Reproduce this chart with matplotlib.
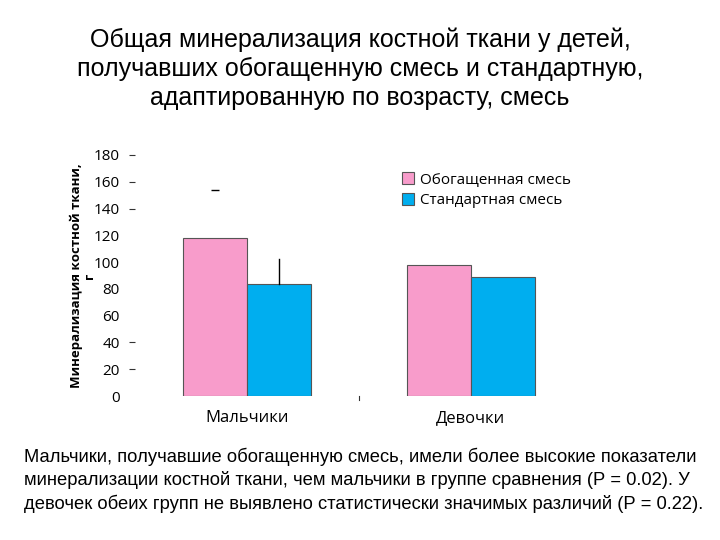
import matplotlib.pyplot as plt
import numpy as np

# data
groups = ["Мальчики", "Девочки"]
series = ["Обогащенная смесь", "Стандартная смесь"]
enriched = [118, 98]
standard = [84, 89]
enriched_err_top = [154, None]
standard_err_top = [102, None]
yticks = [0, 20, 40, 60, 80, 100, 120, 140, 160, 180]
no_dash = [60, 80, 100, 120]

title = ("Общая минерализация костной ткани у детей,\n"
         "получавших обогащенную смесь и стандартную,\n"
         "адаптированную по возрасту, смесь")
note = ("Мальчики, получавшие обогащенную смесь, имели более высокие показатели\n"
        "минерализации костной ткани, чем мальчики в группе сравнения (Р = 0.02). У\n"
        "девочек обеих групп не выявлено статистически значимых различий (Р = 0.22).")

pink = "#F89CCB"
blue = "#00AEEF"
chart_font = ["Open Sans", "DejaVu Sans"]
text_font = ["Liberation Sans", "DejaVu Sans"]

fig = plt.figure(figsize=(7.2, 5.4), dpi=100)
ax = fig.add_axes([135 / 720, 1 - 396 / 540, (583 - 135) / 720, (396 - 155) / 540])

x = np.arange(len(groups))
w = 0.286
ax.bar(x - w / 2, enriched, w, color=pink, edgecolor="#555555", linewidth=0.8,
       label=series[0])
ax.bar(x + w / 2, standard, w, color=blue, edgecolor="#555555", linewidth=0.8,
       label=series[1])

# error bars (only what is visible in the original)
for i in range(len(groups)):
    if enriched_err_top[i] is not None:
        ax.plot(x[i] - w / 2, enriched_err_top[i], marker="_", color="black",
                markersize=6, markeredgewidth=1)
    if standard_err_top[i] is not None:
        ax.plot([x[i] + w / 2, x[i] + w / 2], [standard[i], standard_err_top[i]],
                color="black", linewidth=1)

ax.set_xlim(-0.5, 1.5)
ax.set_ylim(0, 180)
ax.set_yticks(yticks)
ax.set_yticklabels([str(v) for v in yticks], fontsize=11, family=chart_font)
ax.tick_params(axis="y", length=4, width=0.8, pad=7, direction="out", color="#333333")
for tick, v in zip(ax.yaxis.get_major_ticks(), yticks):
    if v in no_dash or v == 0:
        tick.tick1line.set_visible(False)

ax.set_xticks(x)
ax.set_xticklabels(groups, fontsize=12, family=chart_font)
ax.tick_params(axis="x", length=0, pad=10)
# small separator tick between categories
ax.plot([0.5, 0.5], [0, -3], color="#333333", linewidth=0.8, clip_on=False)

for s in ax.spines.values():
    s.set_visible(False)

ax.set_ylabel("Минерализация костной ткани,\nг", fontsize=9.5, fontweight="bold",
              family=chart_font, linespacing=1.0)
ax.yaxis.set_label_coords(-0.087, 0.5)

ax.legend(loc="upper left", bbox_to_anchor=(0.565, 0.985), frameon=False,
          prop={"family": chart_font, "size": 11}, handlelength=0.8,
          handleheight=0.8, handletextpad=0.4, labelspacing=0.35)

fig.text(0.5, 1 - 69 / 540, title, ha="center", va="center", fontsize=18,
         family=text_font, linespacing=1.25)
fig.text(24 / 720, 1 - 480 / 540, note, ha="left", va="center", fontsize=13.2,
         family=text_font, linespacing=1.38)

fig.savefig("out.png", dpi=100)
